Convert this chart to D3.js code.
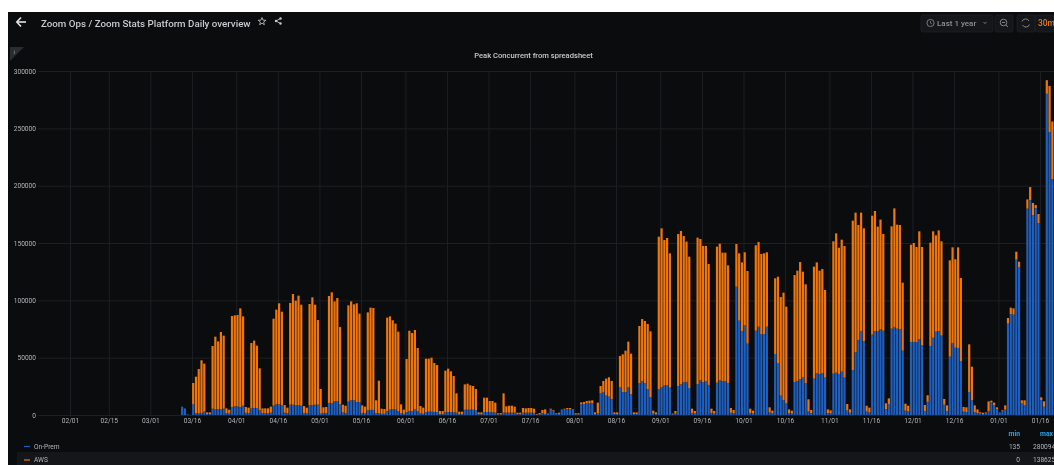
<!DOCTYPE html>
<html><head><meta charset="utf-8">
<script src="https://cdn.jsdelivr.net/npm/d3@7"></script>
<style>
html,body{margin:0;padding:0;background:#fff;overflow:hidden}
svg{display:block;font-family:Roboto,sans-serif;filter:blur(0.35px)}
</style></head><body>
<script>
const panelTitle = "Peak Concurrent from spreadsheet";
const pageTitle = "Zoom Ops / Zoom Stats Platform Daily overview";
const firstDay = "2020-03-12";
const domainDays = ["2020-02-01", "2021-01-16"];
const xTickDays = ["2020-02-01","2020-02-15","2020-03-01","2020-03-16","2020-04-01","2020-04-16","2020-05-01","2020-05-16","2020-06-01","2020-06-16","2020-07-01","2020-07-16","2020-08-01","2020-08-16","2020-09-01","2020-09-16","2020-10-01","2020-10-16","2020-11-01","2020-11-16","2020-12-01","2020-12-16","2021-01-01","2021-01-16"];
const yTicks = [0,50000,100000,150000,200000,250000,300000];
const legendNames = ["On-Prem","AWS"];
const legendMin = ["135","0"];
const legendMax = ["280094","138625"];

const onPrem = [7300,5800,600,135,
9300,1800,1500,1800,2900,800,800,
5500,5000,5000,5000,5500,1500,1300,
7000,7500,7500,7000,8100,2000,1600,
5800,6100,6100,4000,1500,1500,1500,
2000,8200,9300,9300,8700,2000,1500,
9000,9000,8700,8700,8100,1800,1500,
8400,8700,9000,9000,1200,1500,1600,
10500,10200,11900,11900,9300,2200,1800,
11600,12800,12800,11300,11000,1800,1500,
4000,4400,4400,1500,1500,1000,1000,
3500,4700,5200,4700,3500,1400,1000,
2500,3500,3500,5000,3200,1300,1000,
2600,2900,2900,2600,2600,700,700,
2300,2500,2500,2300,2000,700,700,
4600,4600,4600,4600,4300,600,600,
2600,2600,2600,2300,2000,500,500,
2000,2000,2000,2000,2000,600,600,
2000,2000,2000,2000,1800,400,500,
1500,900,1500,4700,3800,1000,1000,
4700,4900,5200,5200,4400,500,500,
9300,9600,10200,10200,10500,800,1500,
18900,19800,16900,16000,13700,800,800,
24100,20000,20000,24100,18000,800,800,
27600,29700,27900,22400,15400,1200,800,
22400,24100,25600,25900,23900,500,1200,
25300,26700,28500,28500,23500,1800,1200,
27000,30200,28500,29400,26200,1800,1200,
28200,30200,29400,29400,27600,2000,1500,
111900,82300,73300,78200,62200,1800,1300,
73500,77000,70300,70600,77000,2200,1300,
53200,45000,16900,13100,10200,1600,1300,
28800,29700,31400,32800,27600,3000,1500,
31700,36300,35800,36300,32600,1600,1400,
36000,36900,35800,37800,32600,4000,2000,
39200,54700,65400,73300,64200,3000,2200,
70100,73000,73000,74700,73500,5200,9600,
75300,76500,75300,74700,56100,3800,3000,
63700,63700,63400,66000,60800,3400,11500,
60200,67400,72700,73000,69200,9000,3300,
50900,62800,58700,58400,47100,3000,2500,
20100,12800,2300,1500,1200,900,1500,
3200,11000,8700,5200,2300,3800,4700,
79700,88100,87500,135500,129100,10200,8400,
180000,187500,174400,180500,167400,13100,7300,
280094,246800,205800];

const stackTop = [7300,5800,600,135,
27900,33400,40100,47700,44800,2300,2300,
60200,68300,64200,72400,69200,5800,4600,
86300,86900,87200,93000,86000,7000,6400,
62800,64900,60500,40700,5800,5800,5800,
7300,84000,91900,97400,90100,8700,6400,
97700,105500,99700,104100,96200,7800,6400,
96800,102600,96200,82800,22700,6700,7000,
103800,107000,99100,102000,76700,9000,8100,
95600,99100,96500,97400,88400,8400,7300,
89500,93600,93300,12800,29900,5500,5200,
84900,86000,82600,79700,72700,9300,4700,
48800,73500,71500,74100,58400,7800,6400,
49100,49100,50000,45300,43600,3500,3500,
38700,40400,38100,34000,18900,2900,2900,
26700,27300,25900,25300,22700,2300,2300,
15100,15100,12200,12200,10800,1500,1700,
18900,7600,8100,8100,7300,2000,2000,
6100,5800,6100,6100,5500,900,1700,
4400,4900,1500,5500,4400,1500,2000,
4900,5500,6100,6100,4900,1500,1500,
11000,11300,12200,12500,12800,2300,10800,
25300,29700,31700,32900,29700,2300,2300,
51500,52900,56100,64000,53500,2300,2300,
77600,83700,82000,79400,73000,3800,2300,
155500,162800,152600,154400,141000,1200,3500,
157900,160500,156100,151200,138100,5500,3500,
154700,153500,147400,147400,131700,5500,3500,
146800,149400,141600,141600,130500,6100,4400,
149100,141000,133100,141900,125600,5500,3800,
148000,150900,140400,141000,141900,6700,3800,
119200,120600,102900,106700,94500,4900,3800,
122100,125900,133400,125000,114000,13700,4400,
129400,133100,125900,127300,109000,4900,4100,
151500,158400,145900,152900,147400,9600,4900,
169500,176500,165700,176500,162800,8100,6400,
173800,177900,164300,170400,157900,10200,14500,
164500,180200,166000,165700,115400,9900,8100,
148500,150000,146500,160200,146500,8700,17200,
150300,160200,156700,161000,151500,14000,8400,
134900,146200,135800,146200,119500,7000,6700,
61600,42100,8400,4900,2300,2000,2300,
11900,12500,10800,6700,2300,4400,8400,
84600,93600,93000,142400,133700,12800,12800,
188000,198800,184900,183100,175300,15400,11900,
292000,287000,256000];

const W = 1054, H = 465;
const BG = "#0b0c0e", GRID = "#1e1f22", TXT = "#b4b6b9";
const BLUE = "#1f5fbf", ORANGE = "#f0760c";
const parse = d3.utcParse("%Y-%m-%d");
const start = parse(firstDay);
const days = onPrem.map((_, i) => d3.utcDay.offset(start, i));
const rows = days.map((d, i) => ({d, onPrem: onPrem[i], aws: Math.max(0, stackTop[i] - onPrem[i])}));

const svg = d3.select("body").append("svg").attr("width", W).attr("height", H);
svg.append("rect").attr("width", W).attr("height", H).attr("fill", "#fff");
svg.append("rect").attr("x", 8).attr("y", 12).attr("width", W - 8).attr("height", H - 12).attr("fill", BG);

const x = d3.scaleUtc().domain(domainDays.map(parse)).range([70, 1040]);
const y = d3.scaleLinear().domain([0, 300000]).range([415, 71]);

// grid + axes
const xAxis = d3.axisBottom(x).tickValues(xTickDays.map(parse)).tickFormat(d3.utcFormat("%m/%d")).tickSize(-344).tickPadding(3.5);
const gx = svg.append("g").attr("transform", "translate(0,415)").call(xAxis);
const yAxis = d3.axisLeft(y).tickValues(yTicks).tickFormat(d3.format("d")).tickSize(-(W - 38)).tickPadding(2);
const gy = svg.append("g").attr("transform", "translate(38,0)").call(yAxis);
[gx, gy].forEach(g => {
  g.select(".domain").remove();
  g.selectAll("line").attr("stroke", GRID).attr("stroke-width", 1);
  g.selectAll("text").attr("fill", TXT).attr("font-size", 6.6).attr("font-family", "Roboto,sans-serif");
});

// stacked bars
const stack = d3.stack().keys(["onPrem", "aws"])(rows);
const colors = {onPrem: BLUE, aws: ORANGE};
const barW = 2.2;
svg.append("clipPath").attr("id", "plot").append("rect").attr("x", 38).attr("y", 60).attr("width", W - 38).attr("height", 356);
svg.append("g").attr("clip-path", "url(#plot)").selectAll("g").data(stack).join("g")
  .attr("fill", s => colors[s.key])
  .selectAll("rect").data(s => s).join("rect")
  .attr("x", s => x(s.data.d) + 0.15)
  .attr("width", barW)
  .attr("y", s => y(s[1]))
  .attr("height", s => Math.max(0, y(s[0]) - y(s[1])));

// panel title and info corner
svg.append("text").attr("x", 533.5).attr("y", 57.5).attr("text-anchor", "middle").attr("font-size", 7.6).attr("font-weight", 500).attr("fill", "#c8c9cc").text(panelTitle);
svg.append("path").attr("d", d3.line()([[10, 47], [24, 47], [10, 61]])).attr("fill", "#2a2c30");
svg.append("text").attr("x", 13.5).attr("y", 53.5).attr("font-size", 5.5).attr("fill", "#a8aaad").text("i");

// top bar
svg.append("path").attr("d", d3.line()([[26, 22], [17, 22]])).attr("stroke", "#e4e5e7").attr("stroke-width", 1.6).attr("fill", "none");
svg.append("path").attr("d", d3.line()([[21, 17.5], [16.8, 22], [21, 26.5]])).attr("stroke", "#e4e5e7").attr("stroke-width", 1.6).attr("fill", "none");
svg.append("text").attr("x", 41).attr("y", 26.5).attr("font-size", 9.75).attr("font-weight", 500).attr("fill", "#c9cacd").text(pageTitle);
svg.append("path").attr("fill", "none").attr("stroke", "#c9cacd").attr("stroke-width", 0.8)
  .attr("d", d3.line()(d3.range(10).map(i => { const r = i % 2 ? 1.7 : 4, a = -Math.PI / 2 + i * Math.PI / 5; return [262 + r * Math.cos(a), 21.5 + r * Math.sin(a)]; })) + "Z");
svg.append("g").attr("fill", "none").attr("stroke", "#c9cacd").attr("stroke-width", 0.9).selectAll("path")
  .data([[[280.5, 18.5], [276, 21], [280.5, 23.5]]]).join("path").attr("d", d => d3.line()(d));
svg.append("g").attr("fill", "#c9cacd").selectAll("circle").data([[280.5, 18.5], [276, 21], [280.5, 23.5]]).join("circle")
  .attr("cx", d => d[0]).attr("cy", d => d[1]).attr("r", 1.2);

// time controls
const boxes = [[921, 72], [995, 18], [1017, 18], [1035, 19]];
svg.append("g").selectAll("rect").data(boxes).join("rect")
  .attr("x", d => d[0]).attr("y", 15).attr("width", d => d[1]).attr("height", 17).attr("rx", 2)
  .attr("fill", "#141619").attr("stroke", "#202226").attr("stroke-width", 0.7);
svg.append("circle").attr("cx", 930.5).attr("cy", 23).attr("r", 3.6).attr("fill", "none").attr("stroke", "#8e9094").attr("stroke-width", 0.8);
svg.append("path").attr("d", "M930.5 21V23.2L932 24").attr("fill", "none").attr("stroke", "#8e9094").attr("stroke-width", 0.7);
svg.append("text").attr("x", 937).attr("y", 26).attr("font-size", 8).attr("font-weight", 500).attr("fill", "#8e9094").text("Last 1 year");
svg.append("path").attr("d", "M983.5 22L985 23.6L986.5 22").attr("fill", "none").attr("stroke", "#8e9094").attr("stroke-width", 0.8);
svg.append("circle").attr("cx", 1003.5).attr("cy", 22.5).attr("r", 3.3).attr("fill", "none").attr("stroke", "#8e9094").attr("stroke-width", 0.9);
svg.append("path").attr("d", "M1002 22.5H1005M1006 25L1008 27").attr("fill", "none").attr("stroke", "#8e9094").attr("stroke-width", 0.9);
svg.append("path").attr("d", "M1022 21.5A3.8 3.8 0 0 1 1029 21M1029.5 24.5A3.8 3.8 0 0 1 1022.5 25").attr("fill", "none").attr("stroke", "#8e9094").attr("stroke-width", 0.9);
svg.append("text").attr("x", 1038).attr("y", 26).attr("font-size", 8.4).attr("font-weight", 500).attr("fill", "#e5791a").text("30m");

// legend
svg.append("rect").attr("x", 17).attr("y", 452).attr("width", W - 17).attr("height", 13).attr("fill", "#141619");
svg.append("text").attr("x", 1020).attr("y", 436).attr("text-anchor", "end").attr("font-size", 6.8).attr("font-weight", 700).attr("fill", "#33a2e5").text("min");
svg.append("text").attr("x", 1040).attr("y", 436).attr("font-size", 6.8).attr("font-weight", 700).attr("fill", "#33a2e5").text("max");
const lg = svg.append("g").selectAll("g").data(legendNames).join("g").attr("transform", (d, i) => `translate(0,${[448.5, 462][i]})`);
lg.append("rect").attr("x", 24).attr("y", -2.6).attr("width", 6).attr("height", 1.2).attr("fill", (d, i) => [BLUE, ORANGE][i]);
lg.append("text").attr("x", 34).attr("font-size", 6.6).attr("fill", TXT).text(d => d);
lg.append("text").attr("x", 1020).attr("text-anchor", "end").attr("font-size", 6.6).attr("fill", TXT).text((d, i) => legendMin[i]);
lg.append("text").attr("x", 1033).attr("font-size", 6.6).attr("fill", TXT).text((d, i) => legendMax[i]);
</script>
</body></html>
